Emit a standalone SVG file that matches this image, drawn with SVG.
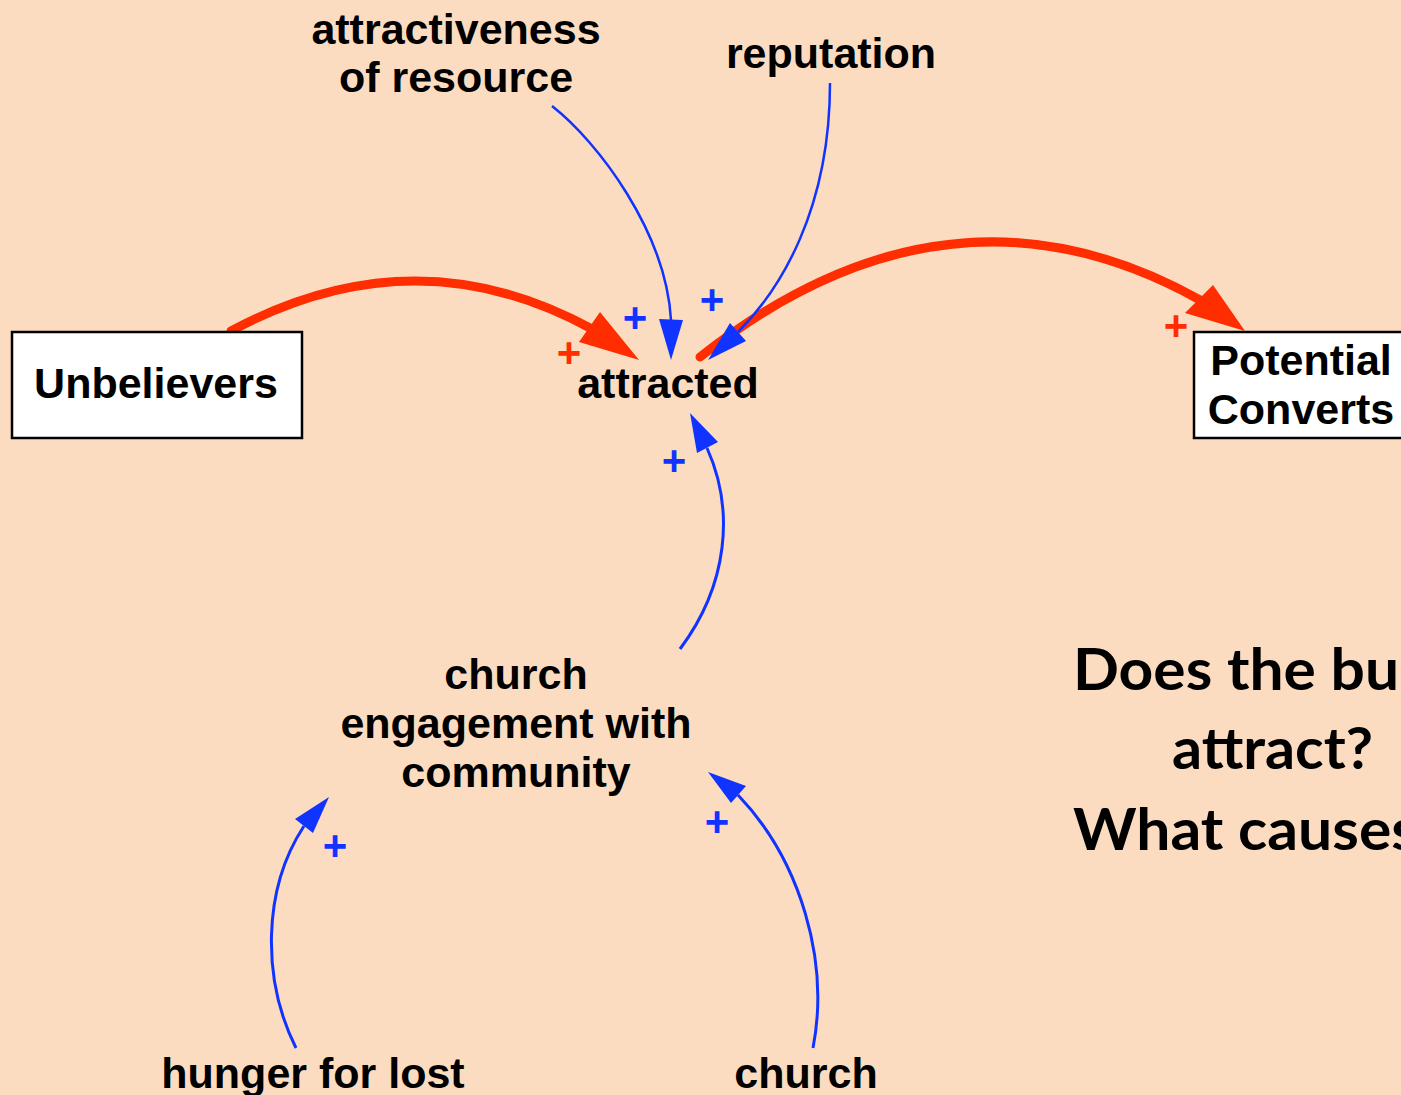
<svg xmlns="http://www.w3.org/2000/svg" width="1401" height="1095" viewBox="0 0 1401 1095">
<style>
.lbl{font-family:"Liberation Sans",Arial,sans-serif;font-weight:bold;font-size:43px;fill:#000;text-anchor:middle}
.box{fill:#fff;stroke:#000;stroke-width:2.5}
.red{fill:none;stroke:#ff2d00;stroke-width:9;stroke-linecap:round}
.blue{fill:none;stroke:#1033ff;stroke-width:2.5}
.blue3{fill:none;stroke:#1033ff;stroke-width:3}
.rh{fill:#ff2d00}
.bh{fill:#1033ff}
.pr{font-family:"Liberation Sans",Arial,sans-serif;font-weight:bold;font-size:42px;fill:#ff2d00;text-anchor:middle}
.pb{font-family:"Liberation Sans",Arial,sans-serif;font-weight:bold;font-size:42px;fill:#1033ff;text-anchor:middle}
.q{font-family:Lato,"Open Sans",sans-serif;font-weight:bold;font-size:57px;fill:#000}
</style>
<rect width="1401" height="1095" fill="#fcdcc0"/>
<g id="connectors">
<path class="red" d="M231,331 Q415,232 592,329"/>
<polygon class="rh" points="639,360 579,342 600,312"/>
<path class="red" d="M700,357 Q950,160 1200,300"/>
<polygon class="rh" points="1245,331 1185,313 1213,285"/>
<path class="blue" d="M552,106 C598,142 666,232 671,320"/>
<polygon class="bh" points="671,360 659,319 683,320"/>
<path class="blue" d="M830,83 C830,210 780,290 738,332"/>
<polygon class="bh" points="708,360 730,323 746,341"/>
<path class="blue3" d="M680,649 C728,585 735,510 707,448"/>
<polygon class="bh" points="690,413 697,453 718,442"/>
<path class="blue3" d="M296,1048 C262,980 262,890 304,826"/>
<polygon class="bh" points="329,797 295,819 313,833"/>
<path class="blue3" d="M813,1048 C830,960 800,860 738,795"/>
<polygon class="bh" points="708,772 731,803 746,786"/>
<text class="pr" x="569" y="367">+</text>
<text class="pr" x="1176" y="340">+</text>
<text class="pb" x="635" y="332">+</text>
<text class="pb" x="712" y="314">+</text>
<text class="pb" x="674" y="475">+</text>
<text class="pb" x="335" y="860">+</text>
<text class="pb" x="717" y="836">+</text>
</g>
<g id="unbelievers">
<rect class="box" x="12" y="332" width="290" height="106"/>
<text class="lbl" x="156" y="398">Unbelievers</text>
</g>
<g id="potential-converts">
<rect class="box" x="1194" y="332" width="220" height="106"/>
<text class="lbl" x="1301" y="375">Potential</text>
<text class="lbl" x="1301" y="424">Converts</text>
</g>
<g id="attracted">
<text class="lbl" x="668" y="398">attracted</text>
</g>
<g id="attractiveness">
<text class="lbl" x="456" y="44">attractiveness</text>
<text class="lbl" x="456" y="92">of resource</text>
</g>
<g id="reputation">
<text class="lbl" x="831" y="68">reputation</text>
</g>
<g id="church-engagement">
<text class="lbl" x="516" y="689">church</text>
<text class="lbl" x="516" y="738">engagement with</text>
<text class="lbl" x="516" y="787">community</text>
</g>
<g id="hunger">
<text class="lbl" x="313" y="1088">hunger for lost</text>
</g>
<g id="church">
<text class="lbl" x="806" y="1088">church</text>
</g>
<g id="question">
<text class="q" x="1073" y="690" textLength="326" lengthAdjust="spacingAndGlyphs">Does the bu</text>
<text class="q" x="1172" y="769" textLength="201" lengthAdjust="spacingAndGlyphs">attract?</text>
<text class="q" x="1073" y="850" textLength="345" lengthAdjust="spacingAndGlyphs">What causes</text>
</g>
</svg>
